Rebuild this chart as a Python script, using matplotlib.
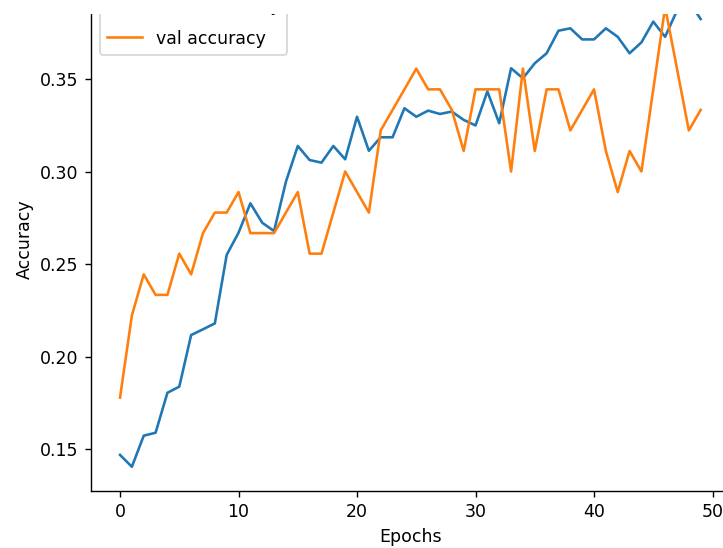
import numpy as np
import matplotlib
matplotlib.use("Agg")
import matplotlib.pyplot as plt
from matplotlib.patches import Rectangle

# accuracy per epoch
epochs = np.arange(50)
train_acc = [0.1468, 0.1404, 0.1572, 0.1588, 0.1804, 0.1837, 0.2116, 0.2147, 0.2179, 0.2549,
             0.2669, 0.2828, 0.2723, 0.2678, 0.2945, 0.3138, 0.3062, 0.3048, 0.3138, 0.3066,
             0.3296, 0.3112, 0.3185, 0.3185, 0.3342, 0.3296, 0.3329, 0.3311, 0.3324, 0.3279,
             0.3249, 0.3433, 0.3261, 0.3558, 0.3504, 0.3585, 0.3639, 0.3761, 0.3774, 0.3714,
             0.3714, 0.3774, 0.3728, 0.3639, 0.3698, 0.3810, 0.3728, 0.3870, 0.3920, 0.3824]
val_acc = [0.1778, 0.2222, 0.2444, 0.2333, 0.2333, 0.2556, 0.2444, 0.2667, 0.2778, 0.2778,
           0.2889, 0.2667, 0.2667, 0.2667, 0.2778, 0.2889, 0.2556, 0.2556, 0.2778, 0.3000,
           0.2889, 0.2778, 0.3222, 0.3333, 0.3444, 0.3556, 0.3444, 0.3444, 0.3333, 0.3111,
           0.3444, 0.3444, 0.3444, 0.3000, 0.3556, 0.3111, 0.3444, 0.3444, 0.3222, 0.3333,
           0.3444, 0.3111, 0.2889, 0.3111, 0.3000, 0.3444, 0.3889, 0.3556, 0.3222, 0.3333]

dpi = 125
fig = plt.figure(figsize=(723 / dpi, 548 / dpi), dpi=dpi)
# the reference is a crop: axes run past the top and right edges
ax = fig.add_axes([91 / 723, 57 / 548, 638.7 / 723, 504.5 / 548])

ax.plot(epochs, train_acc, label="train accuracy")
ax.plot(epochs, val_acc, label="val accuracy")

ax.set_xlim(-2.45, 51.45)
ax.set_ylim(0.1273, 0.40)
ax.set_xlabel("Epochs")
ax.set_ylabel("Accuracy")
ax.legend(loc="lower left", bbox_to_anchor=(0.0141, 0.8652), borderaxespad=0,
          labelspacing=0.85)
ax.spines["top"].set_visible(False)
ax.spines["right"].set_visible(False)

# white strip at the top where the original picture was cut
fig.add_artist(Rectangle((0, 1 - 14 / 548), 1, 14 / 548, transform=fig.transFigure,
                         facecolor="white", edgecolor="none", zorder=10))

fig.savefig("out.png", dpi=dpi)
